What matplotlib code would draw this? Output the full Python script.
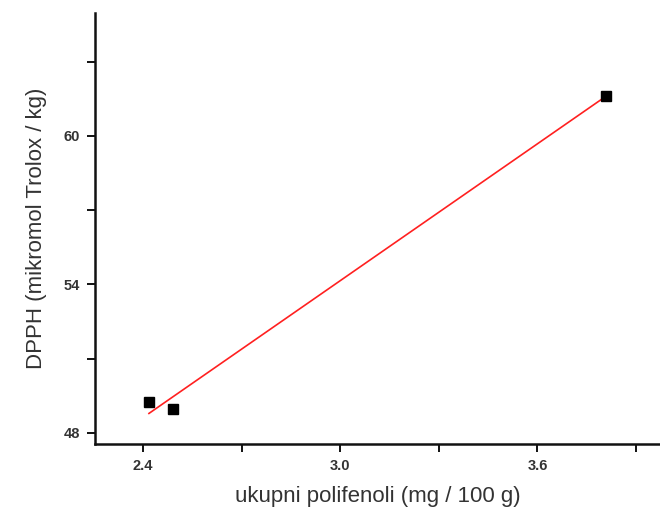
import numpy as np
import matplotlib
matplotlib.use('Agg')
import matplotlib.pyplot as plt

# data
polifenoli = [2.418, 2.491, 3.808]
dpph = [49.25, 48.97, 61.62]

x_ticks = [2.4, 3.0, 3.6]
x_minor = [2.7, 3.3, 3.9]
y_ticks = [48, 54, 60]
y_minor = [51, 57, 63]

plt.rcParams['font.family'] = ['Liberation Sans', 'DejaVu Sans']

fig = plt.figure(figsize=(6.6, 5.12), dpi=100)
ax = fig.add_axes([0.144, 0.133, 0.856, 0.842])

# linear fit
k, n = np.polyfit(polifenoli, dpph, 1)
xf = np.array([min(polifenoli), max(polifenoli)])
ax.plot(xf, k * xf + n, color='#ff2020', lw=1.2, zorder=2)
ax.plot(polifenoli, dpph, 's', color='black', ms=7, zorder=3)

ax.set_xlim(2.254, 3.973)
ax.set_ylim(47.556, 64.97)
ax.set_xticks(x_ticks)
ax.set_yticks(y_ticks)
ax.set_xticks(x_minor, minor=True)
ax.set_yticks(y_minor, minor=True)
ax.set_xticklabels(['2.4', '3.0', '3.6'])
ax.set_yticklabels(['48', '54', '60'])

for s in ['top', 'right']:
    ax.spines[s].set_visible(False)
for s in ['left', 'bottom']:
    ax.spines[s].set_linewidth(1.8)
    ax.spines[s].set_color('#111111')

ax.tick_params(which='both', direction='out', length=6, width=1.4, color='#111111')
ax.tick_params(labelsize=10.5, labelcolor='#333333', pad=5)
for lab in ax.get_xticklabels() + ax.get_yticklabels():
    lab.set_fontweight('bold')

ax.set_xlabel('ukupni polifenoli (mg / 100 g)', fontsize=16, color='#333333', labelpad=9)
ax.set_ylabel('DPPH (mikromol Trolox / kg)', fontsize=16, color='#333333', labelpad=12)

fig.savefig('out.png', dpi=100)
